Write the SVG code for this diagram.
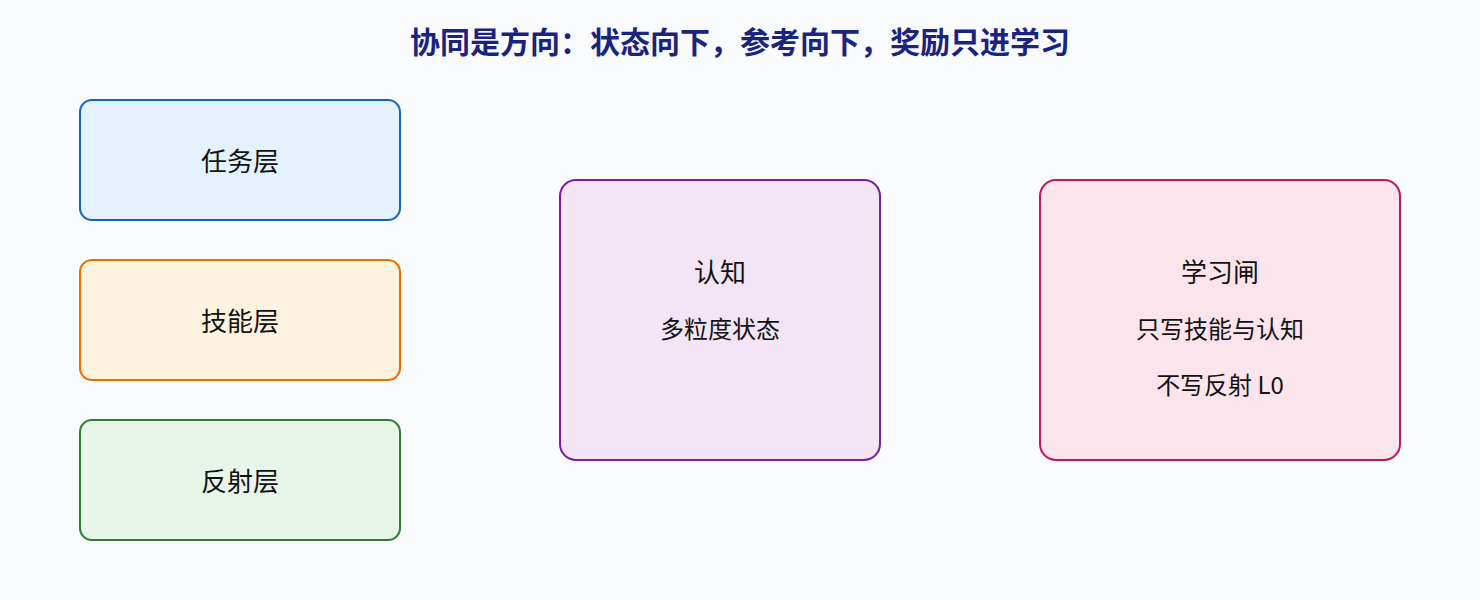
<svg xmlns="http://www.w3.org/2000/svg" width="1480" height="600" viewBox="0 0 1480 600">
<style>
.t{font-family:"Noto Sans CJK SC","Noto Sans",sans-serif;font-size:24px;fill:#111;text-anchor:middle;dominant-baseline:central}
.h{font-size:26px}
.title{font-family:"Noto Sans CJK SC","Noto Sans",sans-serif;font-size:30px;font-weight:bold;fill:#1a237e;text-anchor:middle;dominant-baseline:central}
rect.n{stroke-width:2}
</style>
<rect width="1480" height="600" fill="#f9fbfd"/>
<text class="title" x="740" y="40">协同是方向：状态向下，参考向下，奖励只进学习</text>
<g id="connectors"></g>
<g id="task"><rect class="n" x="80" y="100" width="320" height="120" rx="12" fill="#e3f2fd" stroke="#1565c0"/><text class="t h" x="240" y="159">任务层</text></g>
<g id="skill"><rect class="n" x="80" y="260" width="320" height="120" rx="12" fill="#fff3e0" stroke="#ef6c00"/><text class="t h" x="240" y="319">技能层</text></g>
<g id="reflex"><rect class="n" x="80" y="420" width="320" height="120" rx="12" fill="#e8f5e9" stroke="#2e7d32"/><text class="t h" x="240" y="479">反射层</text></g>
<g id="cognition"><rect class="n" x="560" y="180" width="320" height="280" rx="16" fill="#f3e5f5" stroke="#7b1fa2"/><text class="t h" x="720" y="270">认知</text><text class="t" x="720" y="327">多粒度状态</text></g>
<g id="gate"><rect class="n" x="1040" y="180" width="360" height="280" rx="16" fill="#fce4ec" stroke="#c2185b"/><text class="t h" x="1220" y="270">学习闸</text><text class="t" x="1220" y="327">只写技能与认知</text><text class="t" x="1220" y="383">不写反射 L0</text></g>
</svg>
